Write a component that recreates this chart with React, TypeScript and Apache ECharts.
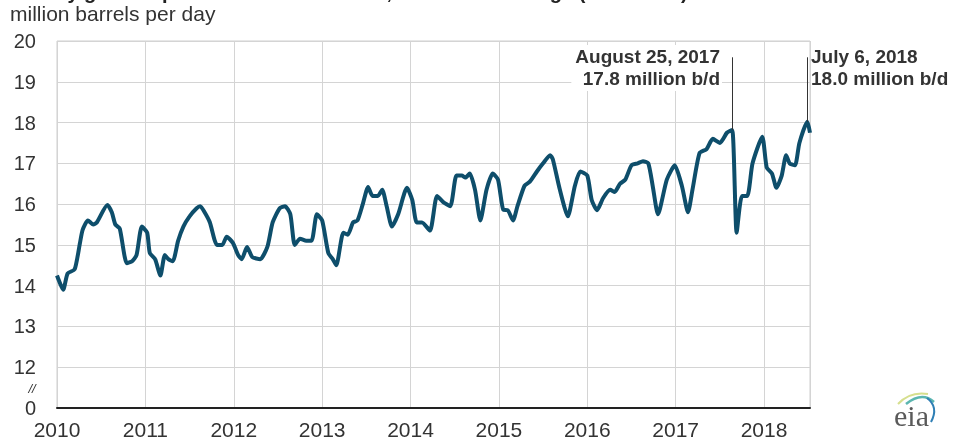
import React, { useEffect, useRef } from "react";
import * as echarts from "echarts";

const weekYears: number[] = [
  2010.0, 2010.07, 2010.12, 2010.2, 2010.26, 2010.29, 2010.35, 2010.41, 2010.45, 2010.57,
  2010.62, 2010.66, 2010.71, 2010.79, 2010.85, 2010.9, 2010.96, 2011.02, 2011.05, 2011.11,
  2011.17, 2011.22, 2011.26, 2011.31, 2011.37, 2011.43, 2011.5, 2011.58, 2011.62, 2011.67,
  2011.73, 2011.81, 2011.87, 2011.92, 2011.99, 2012.05, 2012.09, 2012.15, 2012.21, 2012.3,
  2012.38, 2012.44, 2012.52, 2012.58, 2012.64, 2012.69, 2012.75, 2012.82, 2012.88, 2012.94,
  2013.0, 2013.07, 2013.12, 2013.16, 2013.24, 2013.29, 2013.35, 2013.4, 2013.46, 2013.52,
  2013.57, 2013.63, 2013.68, 2013.73, 2013.79, 2013.86, 2013.96, 2014.02, 2014.07, 2014.13,
  2014.22, 2014.3, 2014.37, 2014.45, 2014.52, 2014.58, 2014.62, 2014.67, 2014.73, 2014.79,
  2014.86, 2014.93, 2014.99, 2015.05, 2015.1, 2015.16, 2015.21, 2015.29, 2015.35, 2015.43,
  2015.5, 2015.58, 2015.61, 2015.69, 2015.78, 2015.86, 2015.92, 2016.0, 2016.05, 2016.11,
  2016.18, 2016.26, 2016.31, 2016.37, 2016.43, 2016.5, 2016.57, 2016.63, 2016.69, 2016.74,
  2016.8, 2016.9, 2016.99, 2017.07, 2017.14, 2017.19, 2017.27, 2017.35, 2017.42, 2017.5,
  2017.58, 2017.64, 2017.69, 2017.75, 2017.81, 2017.87, 2017.98, 2018.03, 2018.09, 2018.14,
  2018.2, 2018.25, 2018.29, 2018.35, 2018.4, 2018.49, 2018.52,
];

// gross refinery inputs, million barrels per day
const grossInputs: number[] = [
  14.25, 13.9, 14.3, 14.4, 15.05, 15.37, 15.6, 15.5, 15.55, 15.98,
  15.8, 15.5, 15.4, 14.55, 14.6, 14.75, 15.45, 15.3, 14.8, 14.65,
  14.25, 14.75, 14.65, 14.6, 15.1, 15.45, 15.7, 15.9, 15.95, 15.8,
  15.55, 15.0, 15.0, 15.2, 15.05, 14.75, 14.65, 14.95, 14.7, 14.65,
  14.95, 15.55, 15.9, 15.95, 15.75, 15.0, 15.15, 15.1, 15.1, 15.75,
  15.6, 14.8, 14.65, 14.5, 15.3, 15.25, 15.55, 15.6, 16.0, 16.42,
  16.2, 16.2, 16.35, 15.95, 15.45, 15.75, 16.4, 16.1, 15.55, 15.55,
  15.35, 16.2, 16.05, 15.95, 16.7, 16.7, 16.65, 16.75, 16.35, 15.6,
  16.35, 16.75, 16.6, 15.86, 15.85, 15.6, 15.95, 16.45, 16.55, 16.8,
  17.0, 17.2, 17.1, 16.35, 15.7, 16.45, 16.8, 16.7, 16.1, 15.85,
  16.15, 16.35, 16.3, 16.5, 16.6, 16.95, 17.0, 17.05, 17.0, 16.45,
  15.75, 16.6, 16.95, 16.45, 15.8, 16.35, 17.25, 17.35, 17.6, 17.5,
  17.75, 17.82, 15.3, 16.2, 16.2, 17.0, 17.65, 16.9, 16.75, 16.4,
  16.7, 17.2, 17.0, 16.95, 17.5, 18.02, 17.75,
];

const yearLabels: string[] = ["2010", "2011", "2012", "2013", "2014", "2015", "2016", "2017", "2018"];
// y ticks 11..20 on the axis; 11 stands for the broken-axis zero
const yTickLabels: string[] = ["0", "12", "13", "14", "15", "16", "17", "18", "19", "20"];

const annotationYears: number[] = [2017.64, 2018.49];
const annotationValues: number[] = [17.82, 18.02];
const annotationTexts: string[] = ["August 25, 2017\n17.8 million b/d", "July 6, 2018\n18.0 million b/d"];

const titleText = "Weekly gross inputs into U.S. refineries, four-week average (2010-2018)";
const unitText = "million barrels per day";

const FONT = "'Liberation Sans', Arial, sans-serif";

export default function App() {
  const ref = useRef<HTMLDivElement>(null);

  useEffect(() => {
    if (!ref.current) return;
    const chart = echarts.init(ref.current, undefined, { renderer: "svg" });
    const data = weekYears.map((y, i) => [y, grossInputs[i]]);

    chart.setOption({
      animation: false,
      grid: {
        left: 57,
        right: 150,
        top: 41,
        bottom: 38,
        show: true,
        borderColor: "#cfcfcf",
        borderWidth: 1,
        backgroundColor: "transparent",
      },
      xAxis: {
        type: "value",
        min: 2010,
        max: 2018.52,
        interval: 1,
        axisLine: { show: true, lineStyle: { color: "#222", width: 2 } },
        axisTick: { show: false },
        splitLine: { show: true, lineStyle: { color: "#d4d4d4", width: 1 } },
        axisLabel: {
          showMaxLabel: false,
          margin: 11,
          color: "#333",
          fontSize: 21,
          fontFamily: FONT,
          formatter: (v: number) => {
            const i = Math.round(v) - 2010;
            return Math.abs(v - Math.round(v)) < 1e-6 && yearLabels[i] ? yearLabels[i] : "";
          },
        },
      },
      yAxis: {
        type: "value",
        min: 11,
        max: 20,
        interval: 1,
        axisLine: { show: false },
        axisTick: { show: false },
        splitLine: { show: true, lineStyle: { color: "#d4d4d4", width: 1 } },
        axisLabel: {
          margin: 21,
          color: "#333",
          fontSize: 20,
          fontFamily: FONT,
          formatter: (v: number) => yTickLabels[Math.round(v) - 11] ?? "",
        },
      },
      series: [
        {
          type: "line",
          data,
          showSymbol: false,
          smooth: 0.2,
          lineStyle: { color: "#0e4e6b", width: 4 },
          z: 3,
          markLine: {
            silent: true,
            symbol: ["none", "none"],
            label: { show: false },
            lineStyle: { color: "#333", width: 1, type: "solid" },
            data: annotationYears.map((yr, i) => [
              { coord: [yr, annotationValues[i]] },
              { coord: [yr, 19.6] },
            ]),
          },
        },
      ],
      graphic: [
        {
          type: "text",
          left: 10,
          top: -18,
          style: { text: titleText, fill: "#222", font: `bold 20px ${FONT}` },
        },
        {
          type: "text",
          x: 10,
          y: 3,
          style: { text: unitText, fill: "#333", font: `21px ${FONT}`, textAlign: "left", align: "left", textVerticalAlign: "top", verticalAlign: "top" },
        },
        {
          type: "text",
          x: 722,
          y: 45,
          z: 10,
          style: {
            text: annotationTexts[0],
            fill: "#333",
            font: `bold 19px ${FONT}`,
            lineHeight: 22,
            textAlign: "right",
            align: "right",
            textVerticalAlign: "top",
            verticalAlign: "top",
            backgroundColor: "#fff",
            padding: [0, 2, 2, 4],
          },
        },
        {
          type: "text",
          x: 811,
          y: 45,
          z: 10,
          style: {
            text: annotationTexts[1],
            fill: "#333",
            font: `bold 19px ${FONT}`,
            lineHeight: 22,
            textAlign: "left",
            align: "left",
            textVerticalAlign: "top",
            verticalAlign: "top",
          },
        },
        {
          type: "text",
          x: 32,
          y: 388,
          style: { text: "//", fill: "#333", font: `italic 13px ${FONT}`, textAlign: "center", align: "center", textVerticalAlign: "middle", verticalAlign: "middle" },
        },
        {
          type: "bezierCurve",
          shape: { x1: 898, y1: 404, cpx1: 910, cpy1: 391, x2: 928, y2: 394 },
          style: { stroke: "#d6df8e", lineWidth: 2, fill: "none" },
        },
        {
          type: "bezierCurve",
          shape: { x1: 906, y1: 404, cpx1: 922, cpy1: 391, x2: 934, y2: 402 },
          style: { stroke: "#5bb6b0", lineWidth: 2.5, fill: "none" },
        },
        {
          type: "bezierCurve",
          shape: { x1: 927, y1: 398, cpx1: 939, cpy1: 407, x2: 931, y2: 422 },
          style: { stroke: "#2f7fb5", lineWidth: 2, fill: "none" },
        },
        {
          type: "text",
          x: 894,
          y: 400,
          style: { text: "eia", fill: "#5a5a5a", font: `30px 'Liberation Serif', 'DejaVu Serif', serif`, textAlign: "left", align: "left", textVerticalAlign: "top", verticalAlign: "top" },
        },
      ],
    });

    return () => chart.dispose();
  }, []);

  return <div ref={ref} style={{ position: "fixed", left: 0, top: 0, width: 960, height: 446 }} />;
}
